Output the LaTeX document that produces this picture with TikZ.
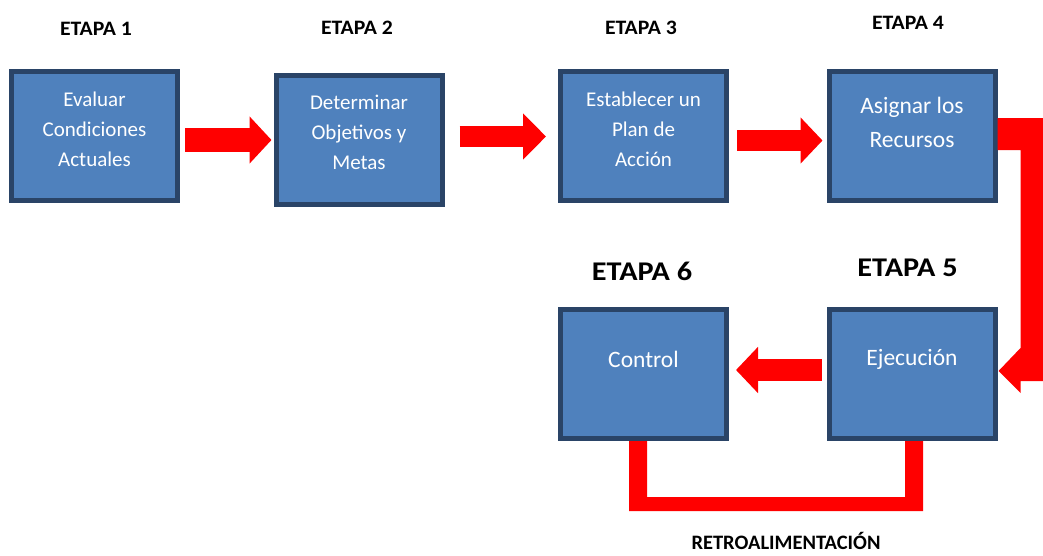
\documentclass[tikz,border=0pt]{standalone}
\usepackage{fontspec}
\setmainfont{Carlito}
\usetikzlibrary{arrows.meta,calc}
\definecolor{boxfill}{HTML}{4F81BD}
\definecolor{boxline}{HTML}{2A4467}
\definecolor{arrowred}{HTML}{FF0000}
\newcommand{\widetext}[2]{\scalebox{#1}[1]{#2}}
\tikzset{
  stagebox/.style={draw=boxline, fill=boxfill, line width=5pt, minimum width=166pt, minimum height=129pt, inner sep=0pt},
  boxtext/.style={text=white, align=center, inner sep=0pt, font=\fontsize{21}{30}\selectfont},
  boxtextbig/.style={text=white, align=center, inner sep=0pt, font=\fontsize{23.5}{34}\selectfont},
  stagelabel/.style={font=\bfseries\fontsize{20.5}{22}\selectfont, inner sep=0pt},
  stagelabelbig/.style={font=\bfseries\fontsize{27}{30}\selectfont, inner sep=0pt},
  flowarrow/.style={draw=arrowred, line width=23pt, -{Triangle[width=46pt,length=22pt]}, arrowred},
}
\begin{document}
\begin{tikzpicture}[x=1pt,y=-1pt]
\useasboundingbox (0,0) rectangle (1043,555);
% boxes
\node[stagebox] (b1) at (94.5,136) {};
\node[stagebox] (b2) at (359,140) {};
\node[stagebox] (b3) at (643.5,136) {};
\node[stagebox] (b4) at (912,136) {};
\node[stagebox] (b5) at (912,374) {};
\node[stagebox] (b6) at (643.5,374) {};
% box texts
\node[boxtext] (t1) at (94.5,129) {Evaluar\\Condiciones\\Actuales};
\node[boxtext] (t2) at (359,132) {Determinar\\Objetivos y\\Metas};
\node[boxtext] (t3) at (643.5,129) {Establecer un\\Plan de\\Acción};
\node[boxtextbig] (t4) at (912,122) {Asignar los\\Recursos};
\node[boxtextbig] (t5) at (912,359) {Ejecución};
\node[boxtextbig] (t6) at (643.5,359) {Control};
% stage labels
\node[stagelabel] (e1) at (96,29) {\widetext{1.06}{ETAPA 1}};
\node[stagelabel] (e2) at (357,28) {\widetext{1.06}{ETAPA 2}};
\node[stagelabel] (e3) at (641,28) {\widetext{1.06}{ETAPA 3}};
\node[stagelabel] (e4) at (908,23) {\widetext{1.06}{ETAPA 4}};
\node[stagelabelbig] (e6) at (642,271.5) {\widetext{1.12}{ETAPA 6}};
\node[stagelabelbig] (e5) at (907.5,267.5) {\widetext{1.12}{ETAPA 5}};
\node[stagelabel, anchor=base] (r) at (786,549.5) {RETROALIMENTACIÓN};
% straight arrows
\draw[flowarrow, line width=24pt, shorten <=5pt, shorten >=2pt] ($(b1.east)+(0,4)$) -- ($(b2.west)+(0,0)$);
\draw[flowarrow, line width=21pt, -{Triangle[width=45pt,length=23pt]}, shorten <=15pt, shorten >=12pt] ($(b2.east)+(0,-3.5)$) -- ($(b3.west)+(0,0.5)$);
\draw[flowarrow, line width=21pt, -{Triangle[width=45pt,length=22pt]}, shorten <=8pt, shorten >=4pt] ($(b3.east)+(0,4.5)$) -- ($(b4.west)+(0,4.5)$);
\draw[flowarrow, line width=22pt, -{Triangle[width=45pt,length=22pt]}, shorten <=5pt, shorten >=7pt] ($(b5.west)+(0,-4)$) -- ($(b6.east)+(0,-4)$);
% bent arrow from stage 4 to stage 5
\fill[arrowred] ($(b4.east)+(0,-18)$) -- ($(b4.east)+(53,-18)$) -- ($(b5.east)+(53,7)$)
  -- ($(b5.east)+(23,7)$) -- ($(b5.east)+(23,19)$) -- ($(b5.east)+(1,-3)$)
  -- ($(b5.east)+(23,-26)$) -- ($(b4.east)+(23,14)$) -- ($(b4.east)+(0,14)$) -- cycle;
% feedback connector
\fill[arrowred] ($(b6.south)+(-14.5,0)$) -- ($(b6.south)+(3.5,0)$) -- ($(b6.south)+(3.5,56)$)
  -- ($(b5.south)+(-7,56)$) -- ($(b5.south)+(-7,0)$) -- ($(b5.south)+(11,0)$)
  -- ($(b5.south)+(11,70)$) -- ($(b6.south)+(-14.5,70)$) -- cycle;
\end{tikzpicture}
\end{document}
